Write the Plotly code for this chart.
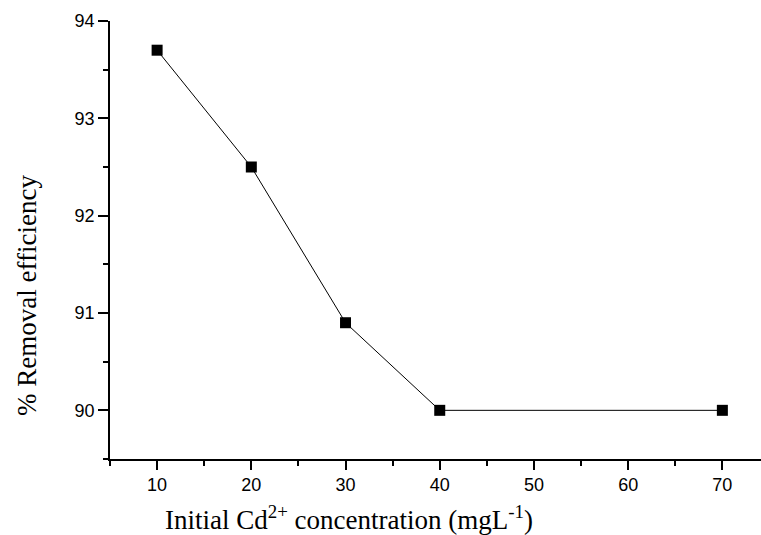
import plotly.graph_objects as go

concentration = [10, 20, 30, 40, 70]
removal_efficiency = [93.7, 92.5, 90.9, 90.0, 90.0]
x_tick_values = [10, 20, 30, 40, 50, 60, 70]
y_tick_values = [90, 91, 92, 93, 94]

W, H = 761, 535
L, R, T, B = 110, 0, 21, 76
plot_w, plot_h = W - L - R, H - T - B

fig = go.Figure()
fig.add_trace(go.Scatter(
    x=concentration, y=removal_efficiency, mode="lines+markers",
    line=dict(color="black", width=1),
    marker=dict(symbol="square", size=11, color="black"),
    showlegend=False,
))

axis_common = dict(
    showline=True, linecolor="black", linewidth=1.5,
    ticks="outside", tickcolor="black", tickwidth=1.5,
    showgrid=False, zeroline=False,
    tickfont=dict(family="Liberation Sans, Arial, sans-serif", size=18, color="black"),
)

fig.update_xaxes(
    range=[5, 74.1], tickvals=x_tick_values, ticklen=9,
    minor=dict(ticks="outside", ticklen=5, tickcolor="black", tickwidth=1.5, dtick=5, tick0=0),
    **axis_common,
)
fig.update_yaxes(
    range=[89.5, 94], tickvals=y_tick_values, ticklen=10,
    minor=dict(ticks="outside", ticklen=5, tickcolor="black", tickwidth=1.5, dtick=0.5, tick0=0),
    **axis_common,
)

title_font = dict(family="Liberation Serif, Times New Roman, serif", size=27, color="black")
fig.add_annotation(
    text="Initial Cd<sup>2+</sup> concentration (mgL<sup>-1</sup>)",
    xref="paper", yref="paper", x=(163 - L) / plot_w, y=-(518 - (H - B)) / plot_h,
    xanchor="left", yanchor="middle", showarrow=False, font=title_font,
)
fig.add_annotation(
    text="% Removal efficiency", textangle=-90,
    xref="paper", yref="paper", x=-(L - 27) / plot_w, y=((H - B) - 296) / plot_h,
    xanchor="center", yanchor="middle", showarrow=False, font=title_font,
)

fig.update_layout(
    width=W, height=H,
    margin=dict(l=L, r=R, t=T, b=B),
    plot_bgcolor="white", paper_bgcolor="white",
)

fig.write_html("out.html", config={"displayModeBar": False},
               post_script="document.body.style.margin='0';")
